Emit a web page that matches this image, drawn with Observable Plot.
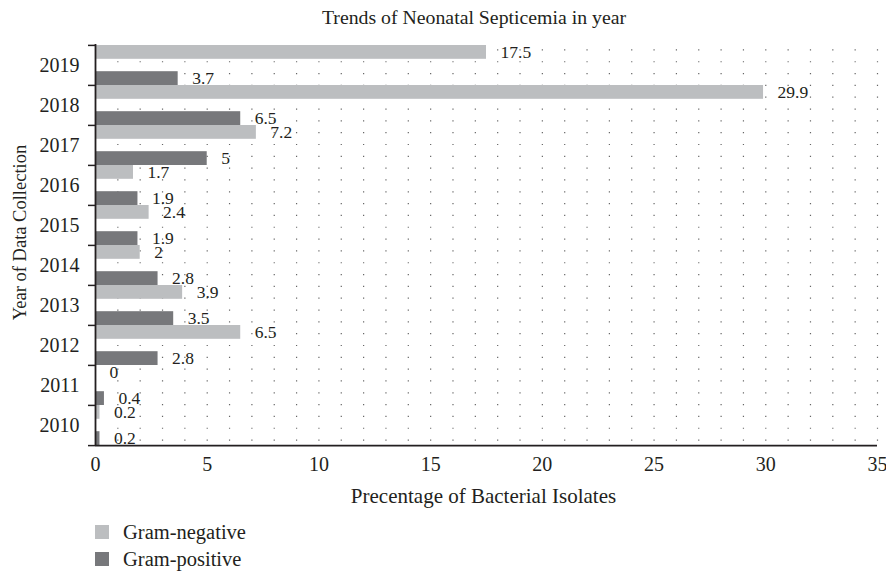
<!DOCTYPE html>
<html>
<head>
<meta charset="utf-8">
<script src="https://cdn.jsdelivr.net/npm/d3@7"></script>
<script src="https://cdn.jsdelivr.net/npm/@observablehq/plot@0.6"></script>
<style>
  body { margin: 0; background: #fff; font-family: "Liberation Serif", serif; color: #231f20; }
  #title { height: 34px; line-height: 34px; font-size: 19.8px; text-align: center; padding-left: 62px; width: 824px; }
  #legend { padding-top: 10px; }
  .item { display: flex; align-items: center; height: 24px; margin-bottom: 3px; font-size: 20.5px; line-height: 24px; padding-left: 95px; }
  .sw { width: 14px; height: 14px; margin-right: 14px; }
  svg text { font-family: "Liberation Serif", serif; }
</style>
</head>
<body>
<div id="title">Trends of Neonatal Septicemia in year</div>
<div id="chart"></div>
<div id="legend"></div>
<script>
const years = ["2010", "2011", "2012", "2013", "2014", "2015", "2016", "2017", "2018", "2019"];
const gramNegative = [0.2, 0, 6.5, 3.9, 2, 2.4, 1.7, 7.2, 29.9, 17.5];
const gramPositive = [0.2, 0.4, 2.8, 3.5, 2.8, 1.9, 1.9, 5, 6.5, 3.7];
const seriesNames = ["Gram-negative", "Gram-positive"];
const seriesColors = ["#bcbec0", "#77787b"];
const xTicks = [0, 5, 10, 15, 20, 25, 30, 35];

const negRows = years.map((y, i) => ({year: y, value: gramNegative[i]}));
const posRows = years.map((y, i) => ({year: y, value: gramPositive[i]}));

const W = 886, H = 476, mT = 10, mB = 64, mL = 95, mR = 9;
const bw = (H - mT - mB) / years.length;
const barH = 14;
const period = (H - mT - mB) / 34;
const ink = "#231f20";
const serif = "Liberation Serif";

const chart = Plot.plot({
  width: W, height: H,
  marginLeft: mL, marginRight: mR, marginTop: mT, marginBottom: mB,
  style: {fontFamily: serif, fontSize: "20px", color: ink, background: "white"},
  x: {domain: [0, 35]},
  y: {type: "band", domain: years.slice().reverse(), padding: 0},
  marks: [
    Plot.gridX({ticks: d3.range(1, 36), stroke: "#666", strokeOpacity: 1, strokeWidth: 1.2,
      strokeDasharray: `1.2 ${period - 1.2}`, strokeDashoffset: -(period / 2 - 0.6)}),
    Plot.barX(negRows, {x: "value", y: "year", fill: seriesColors[0], insetBottom: bw - barH}),
    Plot.barX(posRows, {x: "value", y: "year", fill: seriesColors[1], insetTop: bw - barH}),
    Plot.text(negRows, {x: "value", y: "year", text: d => String(d.value), dx: 14, dy: -(bw / 2 - barH / 2),
      textAnchor: "start", fontSize: 17.5, fontFamily: serif, fill: ink}),
    Plot.text(posRows, {x: "value", y: "year", text: d => String(d.value), dx: 14, dy: (bw / 2 - barH / 2),
      textAnchor: "start", fontSize: 17.5, fontFamily: serif, fill: ink}),
    Plot.ruleX([0], {stroke: ink, strokeWidth: 1.8}),
    Plot.ruleY([years[0]], {y: d => d, dy: bw / 2, stroke: ink, strokeWidth: 1.8}),
    Plot.axisY({tickSize: 0, tickPadding: 16, fontSize: 20, fontFamily: serif, label: null, fill: ink}),
    Plot.axisY({tickSize: 7, tickFormat: () => "", dy: -bw / 2, label: null, stroke: ink, strokeWidth: 1.5}),
    Plot.axisY({ticks: [years[0]], tickSize: 7, tickFormat: () => "", dy: bw / 2, label: null, stroke: ink, strokeWidth: 1.5}),
    Plot.axisX({ticks: xTicks, tickSize: 0, tickPadding: 10, fontSize: 20, fontFamily: serif, label: null, fill: ink}),
    Plot.text(["Precentage of Bacterial Isolates"], {text: d => d, frameAnchor: "bottom", dy: 50, dx: -3,
      fontSize: 21, fontFamily: serif, lineAnchor: "middle", textAnchor: "middle", fill: ink}),
    Plot.text(["Year of Data Collection"], {text: d => d, frameAnchor: "left", rotate: -90, dx: -75, dy: -13,
      fontSize: 18.5, fontFamily: serif, textAnchor: "middle", lineAnchor: "middle", fill: ink})
  ]
});
document.getElementById("chart").appendChild(chart);

const legend = document.getElementById("legend");
seriesNames.forEach((name, i) => {
  const item = document.createElement("div");
  item.className = "item";
  const sw = document.createElement("span");
  sw.className = "sw";
  sw.style.background = seriesColors[i];
  const label = document.createElement("span");
  label.textContent = name;
  item.appendChild(sw);
  item.appendChild(label);
  legend.appendChild(item);
});
</script>
</body>
</html>
